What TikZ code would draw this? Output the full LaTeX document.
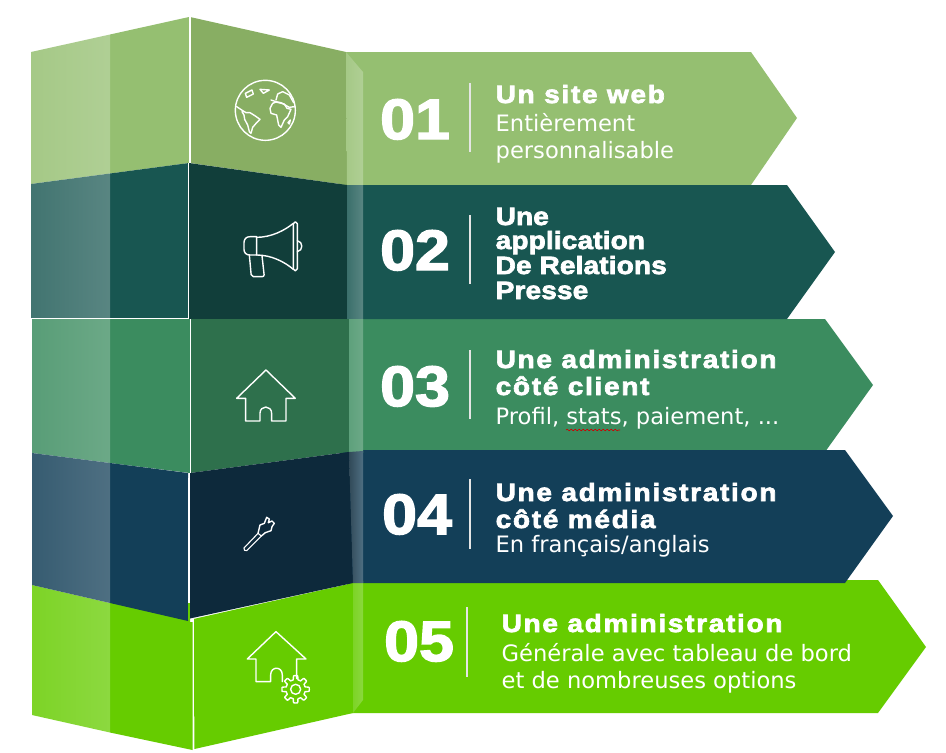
\documentclass[tikz,border=0pt]{standalone}
\usepackage{fontspec}
\usetikzlibrary{decorations.pathmorphing}
\setmainfont{DejaVu Sans}
\newfontfamily\numfont[BoldFeatures={FakeBold=2.6,FakeStretch=1.1}]{Liberation Sans}
\newfontfamily\ttlfont[BoldFeatures={FakeBold=2.8,FakeStretch=1.12,LetterSpace=6.8}]{Liberation Sans}
\newfontfamily\ttlnarrow[BoldFeatures={FakeBold=2.8,FakeStretch=1.12,LetterSpace=0.6}]{Liberation Sans}
\definecolor{ga}{HTML}{95BF71}\definecolor{gb}{HTML}{88AE63}
\definecolor{ta}{HTML}{185651}\definecolor{tb}{HTML}{113E3A}
\definecolor{ma}{HTML}{3B8C5F}\definecolor{mb}{HTML}{2E704C}
\definecolor{na}{HTML}{133F58}\definecolor{nb}{HTML}{0D293B}
\definecolor{la}{HTML}{66CC00}
\tikzset{
  numtext/.style={anchor=base west,inner sep=0pt,text=white,font=\numfont\bfseries\fontsize{57}{57}\selectfont},
  ttltext/.style={anchor=base west,inner sep=0pt,text=white,font=\ttlfont\bfseries\fontsize{25}{25}\selectfont},
  ttlnarrowtext/.style={anchor=base west,inner sep=0pt,text=white,font=\ttlnarrow\bfseries\fontsize{25}{25}\selectfont},
  subtext/.style={anchor=base west,inner sep=0pt,text=white,font=\fontsize{22.6}{22.6}\selectfont},
  sepline/.style={white!90!black,line width=1.3pt},
  edgeline/.style={white,line width=1pt},
  icon/.style={white,line width=1.4pt,line join=round,line cap=round},
}
\begin{document}
\begin{tikzpicture}[x=1pt,y=-1pt]
\useasboundingbox (0,0) rectangle (946,753);
\fill[white] (0,0) rectangle (946,753);
% chevrons
\fill[la] (347,580) -- (878,580) -- (926,647) -- (878,713) -- (347,713) -- cycle;
\fill[ga] (340,52) -- (751,52) -- (797,118) -- (751,185) -- (340,185) -- cycle;
\fill[ma] (340,319) -- (825,319) -- (873,385) -- (825,452) -- (340,452) -- cycle;
\fill[na] (340,450) -- (845,450) -- (893,516) -- (845,583) -- (340,583) -- cycle;
\fill[ta] (340,185) -- (787,185) -- (835,252) -- (787,319) -- (340,319) -- cycle;
% block 1
\fill[ga] (110,34.5) -- (189,17) -- (189,163) -- (110,173.5) -- cycle;
\shade[left color=ga!85!white,right color=ga!75!white] (31,52) -- (110,34.5) -- (110,173.5) -- (31,184) -- cycle;
\fill[gb] (190,17) -- (346,52) -- (347,185) -- (190,163) -- cycle;
\shade[left color=ga!85!white,right color=ga!75!white] (346,52) -- (363,72) -- (363,185) -- (347,185) -- cycle;
% block 2
\fill[ta] (110,173.5) -- (189,163) -- (189,318.5) -- (110,318.5) -- cycle;
\shade[left color=ta!82!white,right color=ta!72!white] (31,184) -- (110,173.5) -- (110,318.5) -- (31,318.5) -- cycle;
\fill[tb] (189,163) -- (347,185) -- (347,319) -- (189,319) -- cycle;
\shade[left color=ta!85!white,right color=ta!72!white] (347,185) -- (363,185) -- (363,319) -- (347,319) -- cycle;
% block 3
\fill[ma] (110,319) -- (190,319) -- (190,473) -- (110,463) -- cycle;
\shade[left color=ma!85!white,right color=ma!75!white] (32,319) -- (110,319) -- (110,463) -- (32,453) -- cycle;
\fill[mb] (190,319) -- (349,319) -- (349,452) -- (190,473) -- cycle;
\shade[left color=ma!82!white,right color=ma!75!white] (349,319) -- (363,319) -- (363,452) -- (349,452) -- cycle;
% block 5 (behind block 4)
\fill[la] (110,603) -- (190,603) -- (190,622) -- (192.5,622) -- (192.5,750) -- (110,732.5) -- cycle;
\shade[left color=la!85!white,right color=la!75!white] (32,585) -- (110,603) -- (110,732.5) -- (32,715) -- cycle;
\fill[la] (193.5,619) -- (353,583) -- (353,713) -- (194.5,749) -- cycle;
\shade[left color=la!85!white,right color=la!76!white] (353,583) -- (363,581) -- (363,700) -- (353,713) -- cycle;
% block 4
\fill[na] (110,463) -- (188,473) -- (188,621) -- (110,603) -- cycle;
\shade[left color=na!85!white,right color=na!75!white] (32,453) -- (110,463) -- (110,603) -- (32,585) -- cycle;
\fill[nb] (190,473) -- (349,452) -- (353,583) -- (190,618.5) -- cycle;
\shade[left color=nb!85!white,right color=na!75!white] (349,452) -- (363,451) -- (363,583) -- (353,583) -- cycle;
% fold lines
\draw[edgeline,line width=2pt] (189.5,17) -- (189.5,163);
\draw[edgeline,line width=.8pt] (188.5,163) -- (188.5,318.5) -- (31,318.5);
\draw[edgeline,line width=.8pt] (190.5,319) -- (190.5,473);
\draw[edgeline,line width=1.6pt] (188.7,478) -- (188.7,603);
\fill[la] (188,603) rectangle (190,620);
\draw[edgeline] (193.3,619) -- (193.3,750);
% separators
\draw[sepline] (470,83) -- (470,152);
\draw[sepline] (470,215) -- (470,284);
\draw[sepline] (470,350) -- (470,419);
\draw[sepline] (470,479) -- (470,549);
\draw[sepline] (467,607) -- (467,677);
% numbers
\node[numtext] (n1) at (380,139) {01};
\node[numtext] (n2) at (380,270) {02};
\node[numtext] (n3) at (380,406) {03};
\node[numtext] (n4) at (382,534) {04};
\node[numtext] (n5) at (384,661) {05};
% texts
\node[ttltext] (t1a) at (495.5,103) {Un site web};
\node[subtext] (t1b) at (495.5,131) {Entièrement};
\node[subtext] (t1c) at (495.5,158) {personnalisable};
\node[ttlnarrowtext] (t2a) at (495.5,225) {Une};
\node[ttlnarrowtext] (t2b) at (495.5,249) {application};
\node[ttlnarrowtext] (t2c) at (495.5,274) {De Relations};
\node[ttlnarrowtext] (t2d) at (495.5,299) {Presse};
\node[ttltext] (t3a) at (495.5,368) {Une administration};
\node[ttltext] (t3b) at (495.5,395) {côté client};
\node[subtext] (t3c) at (495.5,424) {Profil, stats, paiement, ...};
\draw[red!80!black,line width=.6pt,decorate,decoration={snake,amplitude=.8pt,segment length=4pt}] (566,430) -- (620,430);
\node[ttltext] (t4a) at (495.5,501) {Une administration};
\node[ttltext] (t4b) at (495.5,528) {côté média};
\node[subtext] (t4c) at (495.5,552) {En français/anglais};
\node[ttltext] (t5a) at (501.5,632) {Une administration};
\node[subtext] (t5b) at (501.5,661) {Générale avec tableau de bord};
\node[subtext] (t5c) at (501.5,688) {et de nombreuses options};
% globe
\begin{scope}[xshift=226pt,yshift=-70pt,x=.3333pt,y=-.3333pt,icon]
\draw (118,121) circle[radius=90];
\draw (32,110) -- (50,122) -- (60,128) -- (72,128) -- (88,138) -- (102,148) -- (92,158) -- (80,172) -- (75,190) -- (70,185) -- (65,165) -- (56,148) -- (54,135) -- (48,125);
\draw (58,70) -- (78,60) -- (82,72) -- (70,78) -- (62,82) -- cycle;
\draw (102,58) -- (130,60) -- (112,70) -- cycle;
\draw (132,115) -- (140,100) -- (150,96) -- (175,102) -- (183,115) -- (195,118) -- (185,140) -- (175,150) -- (165,172) -- (158,165) -- (152,135) -- (135,130) -- cycle;
\draw (135,90) -- (150,95) -- (165,98) -- (190,112) -- (205,110);
\draw (150,90) -- (155,72) -- (170,65) -- (190,75) -- (203,98);
\draw (193,150) -- (190,162) -- (186,158) -- cycle;
\end{scope}
% megaphone
\begin{scope}[xshift=236pt,yshift=-210pt,x=.3333pt,y=-.3333pt,icon]
\draw (62,80) -- (42,80) .. controls (30,80) and (24,88) .. (24,98) -- (24,118) .. controls (24,128) and (30,135) .. (42,135) -- (62,135) -- cycle;
\draw (62,82) .. controls (105,82) and (145,62) .. (172,40);
\draw (62,135) .. controls (105,135) and (145,155) .. (172,178);
\draw[rounded corners=1.8pt] (172,36) rectangle (184,182);
\draw (184,92) .. controls (202,95) and (202,122) .. (184,125);
\draw[rounded corners=2pt] (40,135) -- (46,200) -- (85,200) -- (78,137);
\end{scope}
% house
\begin{scope}[xshift=20pt,yshift=-310pt,x=.3333pt,y=-.3333pt,icon]
\draw (677,265) -- (650,265) -- (738,180) -- (826,265) -- (798,265) -- (798,333) -- (755,333) -- (755,310) .. controls (755,285) and (720,285) .. (720,310) -- (720,333) -- (677,333) -- cycle;
\end{scope}
% plug
\begin{scope}[xshift=236pt,yshift=-510pt,x=.3333pt,y=-.3333pt,icon]
\draw[line width=1.1pt] (24,114) -- (66,70) -- (76,78) -- (32,122) .. controls (28,125) and (21,118) .. (24,114) -- cycle;
\draw (66,70) -- (72,45) -- (85,40) -- (92,22) -- (100,27) -- (97,38) -- (108,33) -- (115,40) -- (108,50) -- (105,62) -- (88,68) -- (76,78);
\end{scope}
% house with gear
\begin{scope}[xshift=20pt,yshift=-310pt,x=.3333pt,y=-.3333pt,icon]
\draw (830,1106) -- (830,1047) -- (858,1047) -- (768,965) -- (682,1047) -- (708,1047) -- (708,1115) -- (752,1115) -- (752,1095) .. controls (752,1068) and (787,1068) .. (787,1095) -- (787,1115);
\draw plot[domain=0:357.5,samples=145,variable=\t] ({827+(35+6*min(1,max(-1,3*cos(8*\t))))*cos(\t)},{1138+(35+6*min(1,max(-1,3*cos(8*\t))))*sin(\t)}) -- cycle;
\draw (827,1138) circle[radius=15];
\end{scope}
\end{tikzpicture}
\end{document}
